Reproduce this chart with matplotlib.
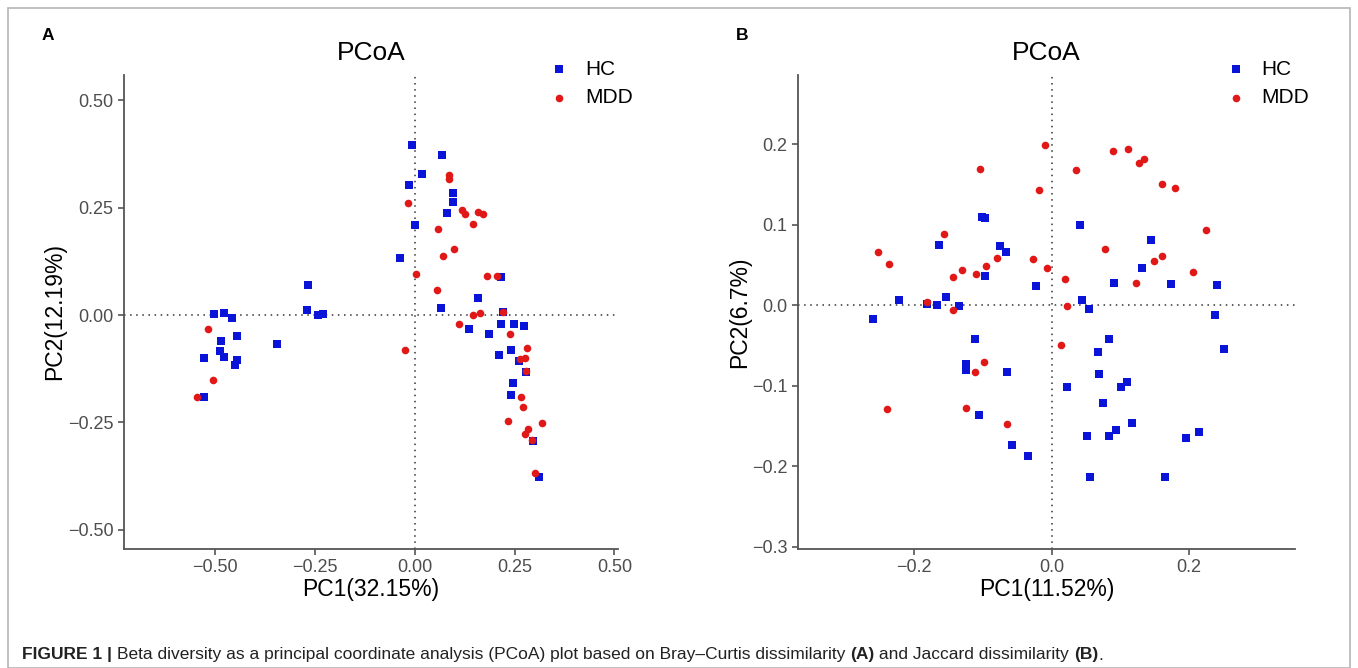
import matplotlib
matplotlib.use("Agg")
import matplotlib.pyplot as plt
from matplotlib.patches import Rectangle
from matplotlib import font_manager

# ---- data ----
# panel A: Bray-Curtis
a_hc_x = [-0.529, -0.529, -0.503, -0.478, -0.459, -0.447, -0.487, -0.489, -0.479, -0.447, -0.452,
          -0.346, -0.267, -0.270, -0.242, -0.230,
          -0.008, 0.068, 0.019, -0.016, 0.096, 0.095, 0.081, 0.000, -0.038, 0.216, 0.158, 0.066,
          0.222, 0.136, 0.215, 0.249, 0.273, 0.185, 0.240, 0.211, 0.261, 0.278, 0.246, 0.241,
          0.295, 0.310]
a_hc_y = [-0.190, -0.101, 0.002, 0.004, -0.006, -0.048, -0.061, -0.083, -0.097, -0.105, -0.117,
          -0.068, 0.071, 0.012, 0.000, 0.002,
          0.396, 0.372, 0.329, 0.302, 0.285, 0.263, 0.238, 0.209, 0.133, 0.089, 0.039, 0.016,
          0.008, -0.033, -0.020, -0.020, -0.026, -0.045, -0.082, -0.093, -0.107, -0.132, -0.159, -0.186,
          -0.294, -0.378]
a_mdd_x = [-0.518, -0.505, -0.545, -0.025,
           0.086, 0.086, -0.017, 0.118, 0.125, 0.157, 0.170, 0.145, 0.058, 0.098, 0.070, 0.004,
           0.181, 0.205, 0.056, 0.222, 0.162, 0.145, 0.111, 0.238, 0.282, 0.276, 0.263, 0.278,
           0.265, 0.270, 0.234, 0.319, 0.284, 0.275, 0.293, 0.302]
a_mdd_y = [-0.033, -0.152, -0.190, -0.082,
           0.326, 0.316, 0.261, 0.245, 0.235, 0.240, 0.235, 0.211, 0.200, 0.153, 0.137, 0.095,
           0.090, 0.091, 0.059, 0.006, 0.005, -0.001, -0.022, -0.045, -0.076, -0.100, -0.103, -0.131,
           -0.190, -0.215, -0.246, -0.251, -0.266, -0.278, -0.290, -0.369]

# panel B: Jaccard
b_hc_x = [-0.102, -0.097, -0.164, -0.075, -0.066, -0.097, -0.023, -0.222, -0.153, -0.181, -0.167,
          -0.135, -0.260,
          0.041, 0.144, 0.132, 0.090, 0.174, 0.241, 0.044, 0.055, 0.238,
          -0.112, -0.124, -0.124, -0.065, -0.105, -0.057, -0.035,
          0.084, 0.251, 0.067, 0.069, 0.110, 0.101, 0.022, 0.075, 0.117, 0.093, 0.084, 0.051,
          0.215, 0.195, 0.056, 0.165]
b_hc_y = [0.110, 0.108, 0.075, 0.073, 0.066, 0.036, 0.024, 0.007, 0.010, 0.001, 0.000,
          -0.001, -0.017,
          0.099, 0.081, 0.046, 0.027, 0.026, 0.025, 0.006, -0.005, -0.012,
          -0.042, -0.073, -0.081, -0.083, -0.137, -0.174, -0.188,
          -0.042, -0.055, -0.058, -0.086, -0.095, -0.102, -0.102, -0.121, -0.147, -0.155, -0.163, -0.163,
          -0.158, -0.165, -0.214, -0.214]
b_mdd_x = [-0.009, -0.104, -0.019, -0.156, -0.253, -0.237, -0.079, -0.027, -0.007, -0.096, -0.131,
           -0.110, -0.144, -0.181, -0.144,
           0.089, 0.111, 0.127, 0.135, 0.035, 0.160, 0.179, 0.225, 0.078, 0.160, 0.149, 0.020,
           0.205, 0.122, 0.023,
           0.013, -0.099, -0.112, -0.239, -0.125, -0.065]
b_mdd_y = [0.199, 0.169, 0.143, 0.089, 0.066, 0.051, 0.058, 0.057, 0.046, 0.049, 0.044,
           0.039, 0.035, 0.004, -0.006,
           0.192, 0.194, 0.177, 0.182, 0.168, 0.151, 0.145, 0.093, 0.070, 0.061, 0.055, 0.033,
           0.041, 0.027, -0.001,
           -0.049, -0.071, -0.083, -0.129, -0.128, -0.148]

a_ticks = [-0.5, -0.25, 0.0, 0.25, 0.5]
a_ticklabels = ["\u22120.50", "\u22120.25", "0.00", "0.25", "0.50"]
b_xticks = [-0.2, 0.0, 0.2]
b_xticklabels = ["\u22120.2", "0.0", "0.2"]
b_yticks = [-0.3, -0.2, -0.1, 0.0, 0.1, 0.2]
b_yticklabels = ["\u22120.3", "\u22120.2", "\u22120.1", "0.0", "0.1", "0.2"]

HC_COLOR = "#0a14d8"
MDD_COLOR = "#e01818"

plt.rcParams["font.family"] = ["Liberation Sans", "DejaVu Sans"]

fig = plt.figure(figsize=(13.58, 6.68), dpi=100)
W, H = 1358.0, 668.0


def px_axes(l, t, r, b):
    return fig.add_axes([l / W, 1 - b / H, (r - l) / W, (b - t) / H])


def style_panel(ax, xlab, ylab):
    for s in ["top", "right"]:
        ax.spines[s].set_visible(False)
    for s in ["left", "bottom"]:
        ax.spines[s].set_color("#555555")
        ax.spines[s].set_linewidth(1.3)
    ax.tick_params(colors="#555555", labelcolor="#4d4d4d", labelsize=13, length=4, width=1.2)
    ax.axhline(0, color="#333333", lw=1.1, ls=(0, (1, 3)), zorder=1)
    ax.axvline(0, color="#333333", lw=1.1, ls=(0, (1, 3)), zorder=1)
    ax.set_xlabel(xlab, fontsize=16.5, labelpad=1)
    ax.set_ylabel(ylab, fontsize=16.5, labelpad=1)
    ax.set_title("PCoA", fontsize=19, pad=11)
    ax.legend(loc="upper left", bbox_to_anchor=(0.845, 1.05), frameon=False, fontsize=15,
              handletextpad=0.8, labelspacing=0.45, handlelength=0.9, borderaxespad=0)


# panel A
axA = px_axes(124, 75, 618, 549)
axA.scatter(a_hc_x, a_hc_y, marker="s", s=34, color=HC_COLOR, linewidths=0, label="HC", zorder=3)
axA.scatter(a_mdd_x, a_mdd_y, marker="o", s=30, color=MDD_COLOR, linewidths=0, label="MDD", zorder=3)
axA.set_xlim(-0.729, 0.509)
axA.set_ylim(-0.545, 0.559)
axA.set_xticks(a_ticks, a_ticklabels)
axA.set_yticks(a_ticks, a_ticklabels)
style_panel(axA, "PC1(32.15%)", "PC2(12.19%)")

# panel B
axB = px_axes(798, 75, 1295, 549)
axB.scatter(b_hc_x, b_hc_y, marker="s", s=34, color=HC_COLOR, linewidths=0, label="HC", zorder=3)
axB.scatter(b_mdd_x, b_mdd_y, marker="o", s=30, color=MDD_COLOR, linewidths=0, label="MDD", zorder=3)
axB.set_xlim(-0.369, 0.354)
axB.set_ylim(-0.303, 0.286)
axB.set_xticks(b_xticks, b_xticklabels)
axB.set_yticks(b_yticks, b_yticklabels)
style_panel(axB, "PC1(11.52%)", "PC2(6.7%)")

# panel letters
fig.text(42 / W, 1 - 35 / H, "A", fontsize=12.5, fontweight="bold", va="center")
fig.text(736 / W, 1 - 35 / H, "B", fontsize=12.5, fontweight="bold", va="center")

# frame around the whole figure
fig.patches.append(Rectangle((8 / W, 0), (1350 - 8) / W, 1 - 8 / H, transform=fig.transFigure,
                             fill=False, edgecolor="#b5b5b5", lw=1.2))

# caption, built piece by piece for the bold parts
names = {f.name for f in font_manager.fontManager.ttflist}
cap_font = ["Liberation Sans Narrow"] if "Liberation Sans Narrow" in names else ["Liberation Sans"]
cap_size = 13.5 if cap_font[0] == "Liberation Sans Narrow" else 12.5
pieces = [("FIGURE 1 | ", "bold"),
          ("Beta diversity as a principal coordinate analysis (PCoA) plot based on Bray\u2013Curtis dissimilarity ", "normal"),
          ("(A)", "bold"), (" and Jaccard dissimilarity ", "normal"), ("(B)", "bold"), (".", "normal")]
renderer = fig.canvas.get_renderer()
x = 22
for txt, wt in pieces:
    t = fig.text(x / W, 1 - 655 / H, txt, fontsize=cap_size, fontweight=wt, family=cap_font,
                 va="center", ha="left", color="#222222")
    x = t.get_window_extent(renderer).x1

fig.savefig("out.png", dpi=100)
